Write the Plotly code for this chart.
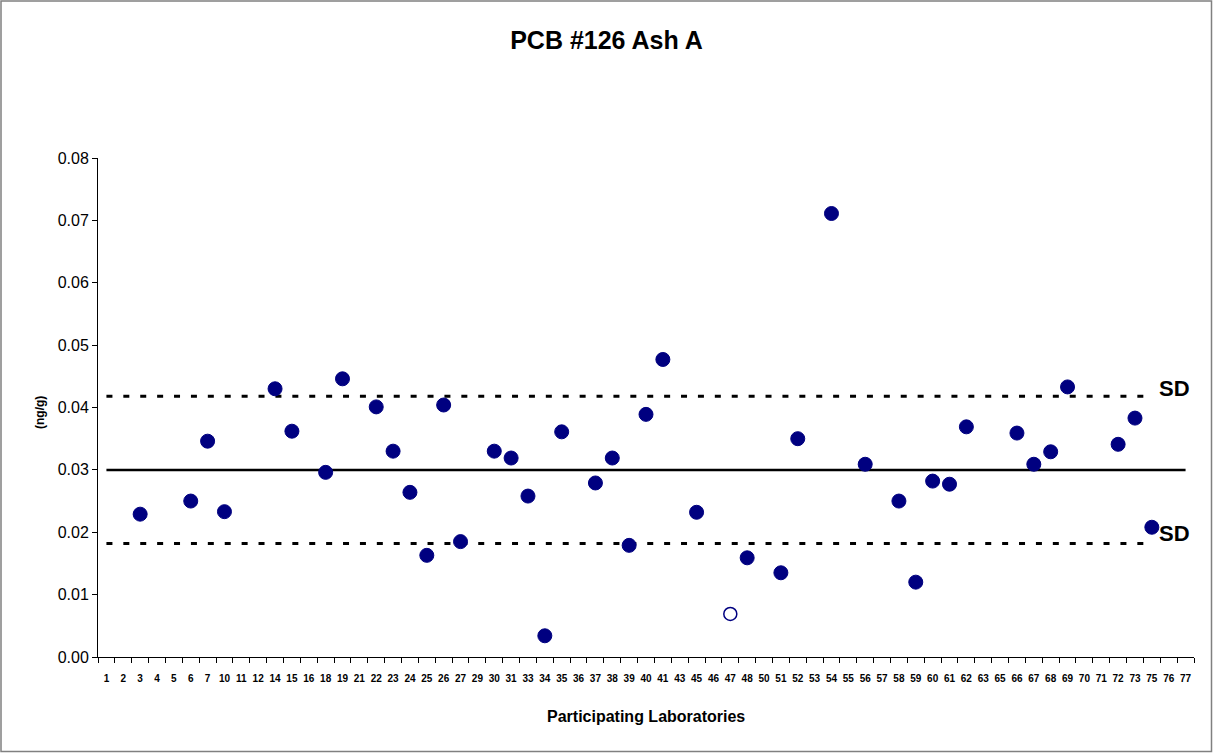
import plotly.graph_objects as go

# Participating laboratory codes along the category axis
categories = ["1", "2", "3", "4", "5", "6", "7", "10", "11", "12", "14", "15", "16", "18",
              "19", "21", "22", "23", "24", "25", "26", "27", "29", "30", "31", "33", "34",
              "35", "36", "37", "38", "39", "40", "41", "43", "45", "46", "47", "48", "50",
              "51", "52", "53", "54", "55", "56", "57", "58", "59", "60", "61", "62", "63",
              "65", "66", "67", "68", "69", "70", "71", "72", "73", "75", "76", "77"]

# Reported results (ng/g)
labs = ["3", "6", "7", "10", "14", "15", "18", "19", "22", "23", "24", "25", "26", "27",
        "30", "31", "33", "34", "35", "37", "38", "39", "40", "41", "45", "48", "51", "52",
        "54", "56", "58", "59", "60", "61", "62", "66", "67", "68", "69", "72", "73", "75"]
values = [0.0229, 0.0250, 0.0346, 0.0233, 0.0430, 0.0362, 0.0296, 0.0446, 0.0401, 0.0330,
          0.0264, 0.0163, 0.0404, 0.0185, 0.0330, 0.0319, 0.0258, 0.0034, 0.0361, 0.0279,
          0.0319, 0.0179, 0.0389, 0.0477, 0.0232, 0.0159, 0.0135, 0.0350, 0.0711, 0.0309,
          0.0250, 0.0120, 0.0282, 0.0277, 0.0369, 0.0359, 0.0309, 0.0329, 0.0433, 0.0341,
          0.0383, 0.0208]

# Result shown as an open marker
open_labs = ["47"]
open_values = [0.0069]

# Consensus mean and +/- SD limits
mean_value = 0.030
sd_upper = 0.0418
sd_lower = 0.0182
sd_end_lab = "75"

NAVY = "#000080"
FONT = "Liberation Sans"

fig = go.Figure()

# Mean line across all laboratories
fig.add_trace(go.Scatter(
    x=[categories[0], categories[-1]], y=[mean_value, mean_value],
    mode="lines", line=dict(color="black", width=2.5), showlegend=False, hoverinfo="skip"))

# SD limit lines
for level in (sd_upper, sd_lower):
    fig.add_trace(go.Scatter(
        x=[categories[0], sd_end_lab], y=[level, level],
        mode="lines", line=dict(color="black", width=3, dash="6px,10.9px"),
        showlegend=False, hoverinfo="skip"))

fig.add_trace(go.Scatter(
    x=labs, y=values, mode="markers",
    marker=dict(color=NAVY, size=14, line=dict(color=NAVY, width=1)),
    showlegend=False))

fig.add_trace(go.Scatter(
    x=open_labs, y=open_values, mode="markers",
    marker=dict(color="white", size=13, line=dict(color=NAVY, width=1.5)),
    showlegend=False))

# Plot area geometry (pixels) for the outer frame
L, R, T, B = 98, 19, 158, 96
W, H = 1213, 753
pw, ph = W - L - R, H - T - B

sd_idx = categories.index(sd_end_lab)

fig.update_layout(
    width=W, height=H,
    margin=dict(l=L, r=R, t=T, b=B),
    paper_bgcolor="white", plot_bgcolor="white",
    font=dict(family=FONT, color="black"),
    title=dict(text="<b>PCB #126 Ash A</b>", x=0.5, xanchor="center",
               y=1 - 40 / H, yanchor="middle", font=dict(size=25, family=FONT, color="black")),
    showlegend=False,
    shapes=[dict(type="rect", xref="paper", yref="paper",
                 x0=(1 - L) / pw, x1=(W - 1.5 - L) / pw,
                 y0=-(B - 1.5) / ph, y1=(ph + T - 1) / ph,
                 line=dict(color="#808080", width=1.5), fillcolor="rgba(0,0,0,0)", layer="below")],
    annotations=[
        dict(text="<b>Participating Laboratories</b>", xref="paper", yref="paper",
             x=0.5, y=0, yshift=-59, xanchor="center", yanchor="middle",
             showarrow=False, font=dict(size=16, family=FONT, color="black")),
        dict(text="<b>(ng/g)</b>", xref="paper", yref="paper",
             x=(40 - L) / pw, y=(657 - 413) / ph, xanchor="center", yanchor="middle",
             textangle=-90, showarrow=False, font=dict(size=12, family=FONT, color="black")),
        dict(text="<b>SD</b>", xref="x", yref="y", x=sd_idx, y=sd_upper,
             xanchor="left", yanchor="middle", xshift=5, yshift=8,
             showarrow=False, font=dict(size=22, family=FONT, color="black")),
        dict(text="<b>SD</b>", xref="x", yref="y", x=sd_idx, y=sd_lower,
             xanchor="left", yanchor="middle", xshift=5, yshift=10,
             showarrow=False, font=dict(size=22, family=FONT, color="black")),
    ],
)

fig.update_xaxes(
    type="category", categoryorder="array", categoryarray=categories,
    tickmode="array", tickvals=categories, ticktext=categories,
    range=[-0.5, len(categories) - 0.5], tickson="boundaries",
    ticks="outside", ticklen=5, tickcolor="black", tickwidth=1,
    showline=True, linecolor="black", linewidth=1, showgrid=False, zeroline=False,
    tickangle=0, ticklabelstandoff=12,
    tickfont=dict(size=10, family=FONT, color="black", weight="bold"))

fig.update_yaxes(
    range=[0, 0.08], dtick=0.01, tick0=0, tickformat=".2f",
    ticks="outside", ticklen=5, tickcolor="black", tickwidth=1,
    showline=True, linecolor="black", linewidth=1, showgrid=False, zeroline=False,
    tickfont=dict(size=16, family=FONT, color="black"))

fig.write_html("out.html")
